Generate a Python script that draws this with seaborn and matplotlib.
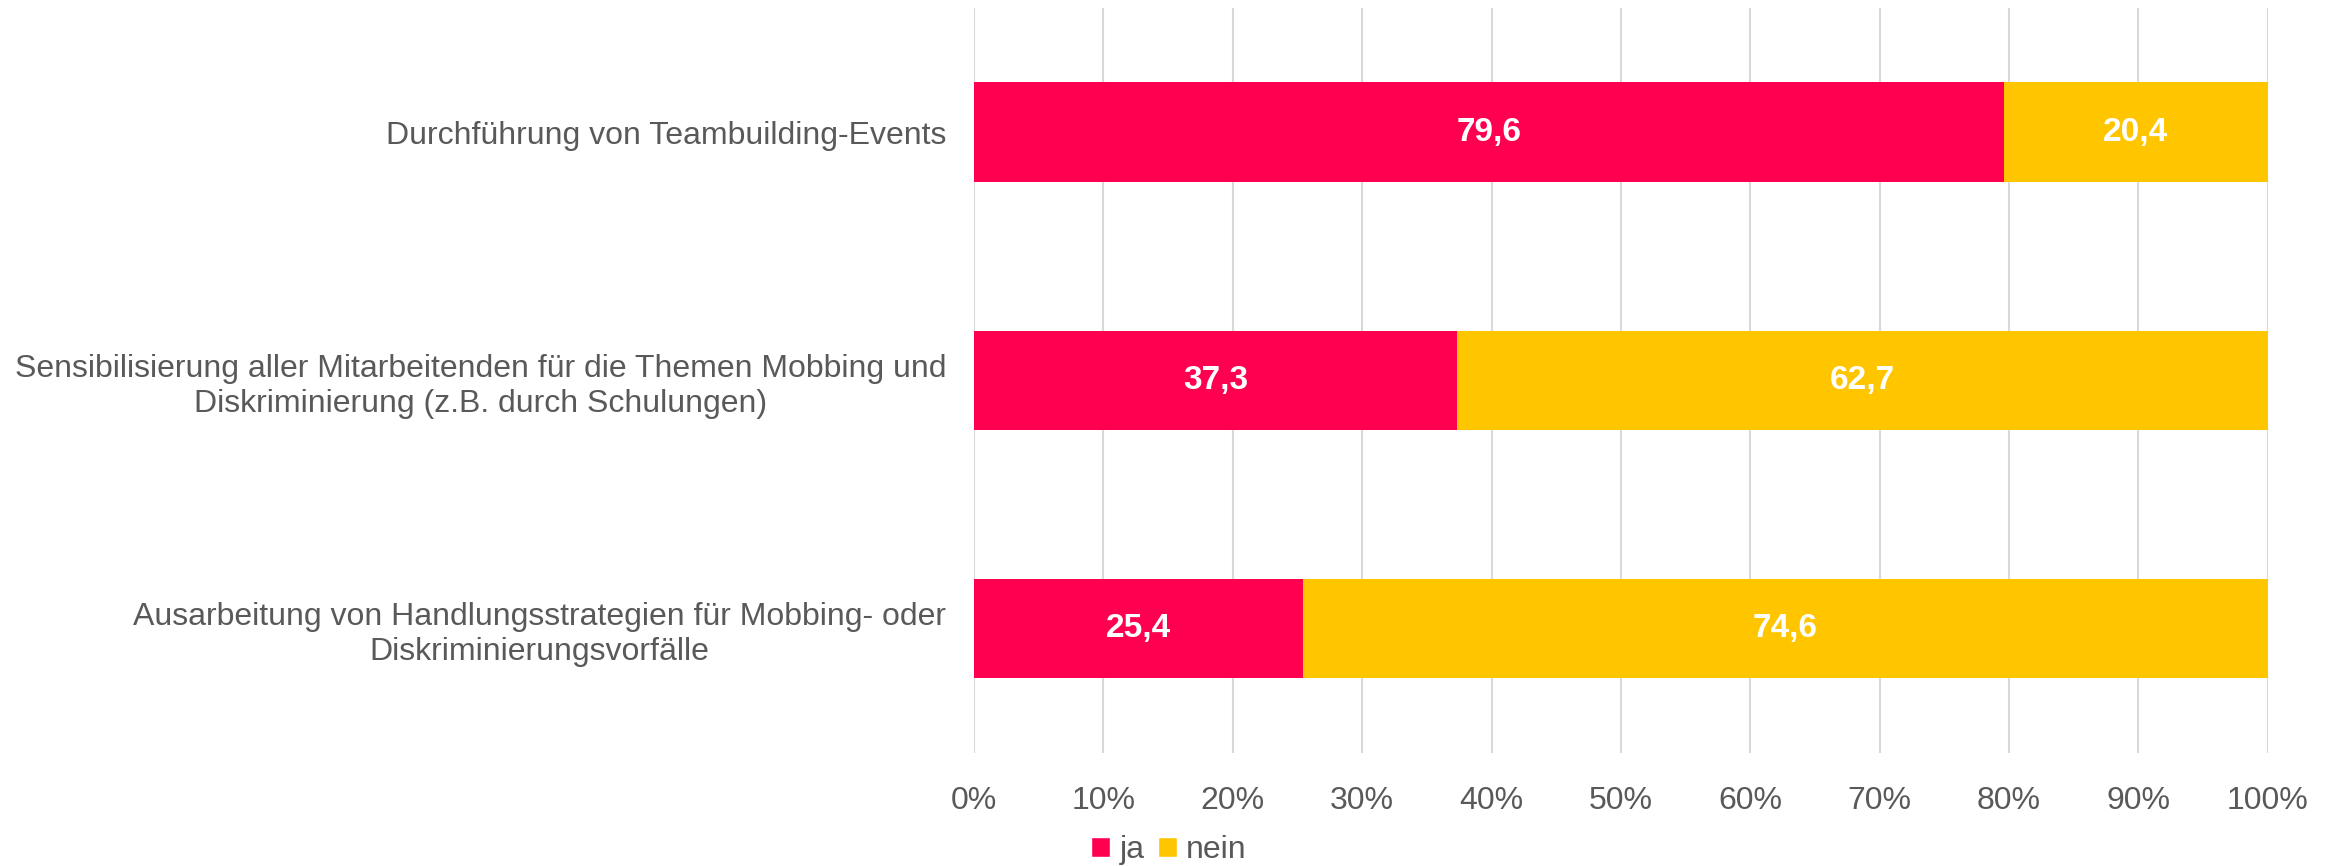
import numpy as np
import pandas as pd
import matplotlib
matplotlib.use('Agg')
import matplotlib.pyplot as plt
import seaborn as sns
from matplotlib.patches import Patch

categories = ['Durchführung von Teambuilding-Events',
              'Sensibilisierung aller Mitarbeitenden für die Themen Mobbing und\nDiskriminierung (z.B. durch Schulungen)',
              'Ausarbeitung von Handlungsstrategien für Mobbing- oder\nDiskriminierungsvorfälle']
ja = [79.6, 37.3, 25.4]
nein = [20.4, 62.7, 74.6]
series = ['ja', 'nein']
colors = ['#FF0051', '#FFC600']
ticks = [0, 10, 20, 30, 40, 50, 60, 70, 80, 90, 100]

sns.set_style('white')
plt.rcParams['font.family'] = ['Liberation Sans', 'DejaVu Sans']
grey = '#595959'

df = pd.DataFrame({'cat': categories, 'ja': ja, 'nein': nein})
df['total'] = df['ja'] + df['nein']

fig = plt.figure(figsize=(23.38, 8.66), dpi=100)
ax = fig.add_axes([0.4166, 0.1305, 0.5534, 0.8603])

sns.barplot(data=df, x='total', y='cat', color=colors[1], width=0.4, ax=ax, saturation=1, orient='h', linewidth=0)
sns.barplot(data=df, x='ja', y='cat', color=colors[0], width=0.4, ax=ax, saturation=1, orient='h', linewidth=0)

for i, row in df.iterrows():
    ax.text(row['ja'] / 2, i, f"{row['ja']:.1f}".replace('.', ','), ha='center', va='center',
            color='white', fontsize=24, fontweight='bold')
    ax.text(row['ja'] + row['nein'] / 2, i, f"{row['nein']:.1f}".replace('.', ','), ha='center', va='center',
            color='white', fontsize=24, fontweight='bold')

ax.set_xlim(0, 100)
ax.set_ylim(2.5, -0.5)
ax.set_xticks(ticks)
ax.set_xticklabels([f'{t}%' for t in ticks])
ax.xaxis.grid(True, color='#D9D9D9', linewidth=1.5)
ax.set_axisbelow(True)
ax.set_xlabel('')
ax.set_ylabel('')
for s in ax.spines.values():
    s.set_visible(False)
ax.tick_params(axis='both', length=0, labelsize=23, labelcolor=grey)
ax.tick_params(axis='x', pad=24)
ax.tick_params(axis='y', pad=20)
for lbl in ax.get_yticklabels():
    lbl.set_multialignment('center')

handles = [Patch(facecolor=c, label=s) for c, s in zip(colors, series)]
leg = fig.legend(handles=handles, loc='center', bbox_to_anchor=(0.5, 0.018), ncol=2, frameon=False,
                 fontsize=23, handlelength=0.6, handleheight=0.6, handletextpad=0.3, columnspacing=0.4)
for t in leg.get_texts():
    t.set_color(grey)

fig.savefig('out.png', dpi=100)
